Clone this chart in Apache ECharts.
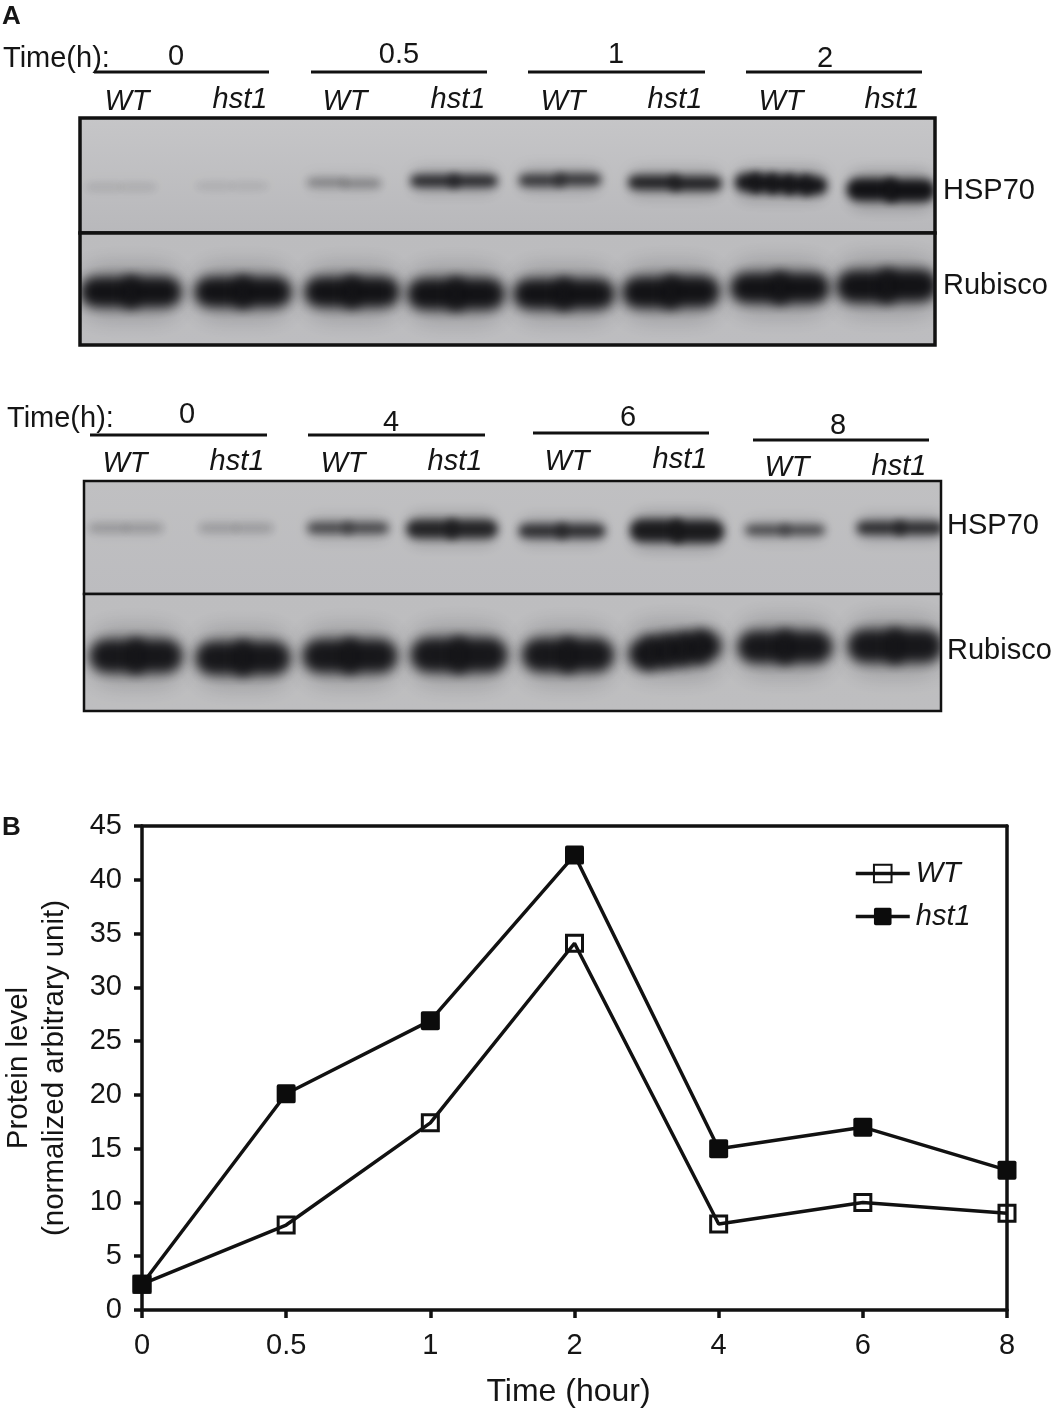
<!DOCTYPE html>
<html><head><meta charset="utf-8">
<style>html,body{margin:0;padding:0;background:#fff}#c{width:1056px;height:1411px}</style>
<script src="https://cdn.jsdelivr.net/npm/echarts@6/dist/echarts.min.js"></script>
</head><body><div id="c"></div>
<script>
// ---- line chart values
var timeLabels = ['0','0.5','1','2','4','6','8'];
var wtValues   = [2.4, 7.9, 17.4, 34.1, 8, 10, 9];
var hst1Values = [2.4, 20.1, 26.9, 42.3, 15, 17, 13];
// ---- blot bands: each row is [gel position, migration, width, thickness, density, tilt]
var hspTopBands = [
 [41,69,70,4,.16,0],[152,68,72,4,.14,0],[264,65,70,7,.36,1],[374,63,80,12,.8,0],
 [480,62,76,12,.72,-1],[595,65,86,14,.85,1],[701,66,84,18,.93,2],[811,72,80,22,.96,1]];
var rubTopBands = [
 [51,59,90,30,.96,0],[163,59,86,30,.96,0],[272,59,84,30,.96,0],[376,61,86,31,.96,0],
 [484,61,90,30,.96,0],[591,59,86,31,.96,-1],[700,55,88,30,.96,0],[807,53,90,32,.96,-1]];
var hspBottomBands = [
 [42,47,72,7,.24,0],[152,47,72,7,.22,0],[264,47,76,11,.62,0],[368,48,84,18,.84,0],
 [478,50,80,14,.76,0],[593,50,86,22,.9,1],[701,49,74,10,.62,0],[816,47,80,13,.78,0]];
var rubBottomBands = [
 [52,62,82,33,.93,0],[159,64,84,33,.93,0],[266,62,84,33,.93,0],[375,61,86,34,.93,0],
 [484,61,81,33,.93,0],[591,56,82,31,.93,-5],[701,53,84,32,.93,0],[811,52,84,33,.93,0]];
// ---- blot text
var topTimes = ['0','0.5','1','2'];
var bottomTimes = ['0','4','6','8'];
var genotypes = ['WT','hst1'];

var FONT = '"Liberation Sans", Arial, sans-serif', INK = '#151515';
var OFF = 3000;
var SQUARE = 'path://M1 0H9A1 1 0 0 1 10 1V9A1 1 0 0 1 9 10H1A1 1 0 0 1 0 9V1A1 1 0 0 1 1 0Z';

function blob(cx, cy, w, h, blur, alpha, r) {
  return { type:'rect', silent:true,
    shape:{ x:cx-w/2-OFF, y:cy-h/2, width:w, height:h, r:r },
    style:{ fill:'#000', shadowColor:'rgba(14,14,17,'+alpha+')', shadowBlur:blur, shadowOffsetX:OFF, shadowOffsetY:0 } };
}
function renderBand(params, api) {
  var c = api.coord([api.value(0), api.value(1)]);
  var s = api.size([api.value(2), api.value(3)]);
  var d = api.value(4), t = api.value(5), w = s[0], h = s[1];
  var big = h > 24, rr = h/2, core = big ? 12 : 9;
  var n = Math.abs(t) > 1 ? 5 : 2;
  var over = core * d;
  var sliceW = w / n;
  var kids = [ blob(c[0], c[1], w*1.02, h*1.4+4, big?26:16, d*.3, rr) ];
  for (var i = 0; i < n; i++) {
    var f = (i + .5) / n * 2 - 1;
    var first = i === 0, last = i === n - 1;
    kids.push(blob(c[0] + f*w/2, c[1] + f*t, sliceW + over, h, core, d,
      [first?rr:0, last?rr:0, last?rr:0, first?rr:0]));
  }
  return { type:'group', children:kids };
}
function band(grid, data) {
  return { type:'custom', xAxisIndex:grid, yAxisIndex:grid, data:data, renderItem:renderBand, clip:true, silent:true, animation:false,
    encode:{x:0,y:1}, legendHoverLink:false, tooltip:{show:false} };
}
function panelGrid(l,t,w,h,top,bot,bw){
  return { left:l, top:t, width:w, height:h, show:true, z:1, borderColor:'#111', borderWidth:bw, outerBoundsMode:'none',
    backgroundColor:{type:'linear',x:0,y:0,x2:0,y2:1,colorStops:[{offset:0,color:top},{offset:1,color:bot}]} };
}
function hiddenX(i,w){ return {type:'value',gridIndex:i,min:0,max:w,show:false}; }
function hiddenY(i,h){ return {type:'value',gridIndex:i,min:0,max:h,inverse:true,show:false}; }

var T = [];
function txt(s,x,y,opt){ opt=opt||{}; T.push({type:'text',silent:true,x:x,y:y+2,z:20,style:{text:s,fill:INK,
  font:(opt.style||'normal')+' '+(opt.weight||'normal')+' '+(opt.size||29)+'px '+FONT,
  textAlign:opt.align||'center',textVerticalAlign:'middle'}}); }
function rule(a,b,y){ T.push({type:'line',silent:true,z:20,shape:{x1:a,y1:y,x2:b,y2:y},style:{stroke:'#111',lineWidth:3}}); }

txt('A',2,15,{align:'left',weight:'bold',size:26});
txt('B',2,826,{align:'left',weight:'bold',size:26});
txt('Time(h):',3,57,{align:'left'});
txt('Time(h):',7,417,{align:'left'});
[[176,55],[399,53],[616,53],[825,57]].forEach(function(p,i){ txt(topTimes[i],p[0],p[1]); });
[[187,413],[391,421],[628,416],[838,424]].forEach(function(p,i){ txt(bottomTimes[i],p[0],p[1]); });
[[94,269,72],[311,487,72],[528,705,72],[746,922,72],[90,267,435],[308,485,435],[533,709,433],[753,929,440]].forEach(function(r){ rule(r[0],r[1],r[2]); });
[[127,100],[240,98],[345,100],[458,98],[563,100],[675,98],[781,100],[892,98],
 [125,462],[237,460],[343,462],[455,460],[567,460],[680,458],[787,466],[899,465]].forEach(function(p,i){
  txt(genotypes[i%2],p[0],p[1],{style:'italic'}); });
txt('HSP70',943,189,{align:'left'}); txt('Rubisco',943,284,{align:'left'});
txt('HSP70',947,524,{align:'left'}); txt('Rubisco',947,649,{align:'left'});

var axisLbl = {color:INK,fontSize:29,fontFamily:FONT};
var stroke = {color:'#111',width:3.5};
var chart = echarts.init(document.getElementById('c'),null,{renderer:'canvas'});
chart.setOption({
  animation:false, backgroundColor:'#fff',
  textStyle:{fontFamily:FONT},
  grid:[
    panelGrid(80,118,855,115,'#c6c6c8','#b8b8bb',3.5),
    panelGrid(80,233,855,112,'#bcbcbe','#bdbdc0',3.5),
    panelGrid(84,481,857,113,'#c0c0c2','#bcbcbf',2.5),
    panelGrid(84,594,857,117,'#bdbdbf','#bebec0',2.5),
    {left:142,top:826,width:865,height:484,show:false,z:3,outerBoundsMode:'none'}
  ],
  xAxis:[hiddenX(0,855),hiddenX(1,855),hiddenX(2,857),hiddenX(3,857),
    {type:'category',gridIndex:4,data:timeLabels,boundaryGap:false,
     name:'Time (hour)',nameLocation:'middle',nameGap:66,nameTextStyle:{color:INK,fontSize:32,fontFamily:FONT,padding:[0,12,0,0]},
     axisLine:{onZero:false,lineStyle:stroke},axisTick:{show:true,alignWithLabel:true,length:8,lineStyle:stroke},
     axisLabel:Object.assign({margin:21,showMinLabel:true,showMaxLabel:true,interval:0},axisLbl),splitLine:{show:false}},
    {type:'category',gridIndex:4,data:timeLabels,boundaryGap:false,position:'top',
     axisLine:{onZero:false,lineStyle:stroke},axisTick:{show:false},axisLabel:{show:false},splitLine:{show:false}}],
  yAxis:[hiddenY(0,115),hiddenY(1,112),hiddenY(2,113),hiddenY(3,117),
    {type:'value',gridIndex:4,min:0,max:45,interval:5,
     name:'Protein level\n(normalized arbitrary unit)',nameLocation:'middle',nameGap:69,nameTextStyle:{color:INK,fontSize:29.5,lineHeight:36,fontFamily:FONT},
     axisLine:{show:true,onZero:false,lineStyle:stroke},axisTick:{show:true,length:8,lineStyle:stroke},
     axisLabel:Object.assign({margin:20},axisLbl),splitLine:{show:false}},
    {type:'value',gridIndex:4,min:0,max:45,interval:5,position:'right',
     axisLine:{show:true,onZero:false,lineStyle:stroke},axisTick:{show:false},axisLabel:{show:false},splitLine:{show:false}}],
  legend:{left:849,top:854,orient:'vertical',itemWidth:54,itemHeight:22,itemGap:14,
    lineStyle:{width:3.5},
    textStyle:{color:INK,fontSize:29,fontStyle:'italic',fontFamily:FONT,padding:[0,0,0,1]},data:['WT','hst1']},
  series:[
    band(0,hspTopBands),band(1,rubTopBands),band(2,hspBottomBands),band(3,rubBottomBands),
    {name:'WT',type:'line',xAxisIndex:4,yAxisIndex:4,data:wtValues,symbol:'rect',symbolSize:16,showAllSymbol:true,clip:false,z:5,
     lineStyle:{color:'#111',width:3.5},itemStyle:{color:'rgba(255,255,255,0)',borderColor:'#111',borderWidth:3}},
    {name:'hst1',type:'line',xAxisIndex:4,yAxisIndex:4,data:hst1Values,symbol:SQUARE,symbolSize:19,showAllSymbol:true,clip:false,z:6,
     lineStyle:{color:'#111',width:3.5},itemStyle:{color:'#0c0c0c',borderColor:'#0c0c0c',borderWidth:0}}
  ],
  graphic:T
});
</script></body></html>
